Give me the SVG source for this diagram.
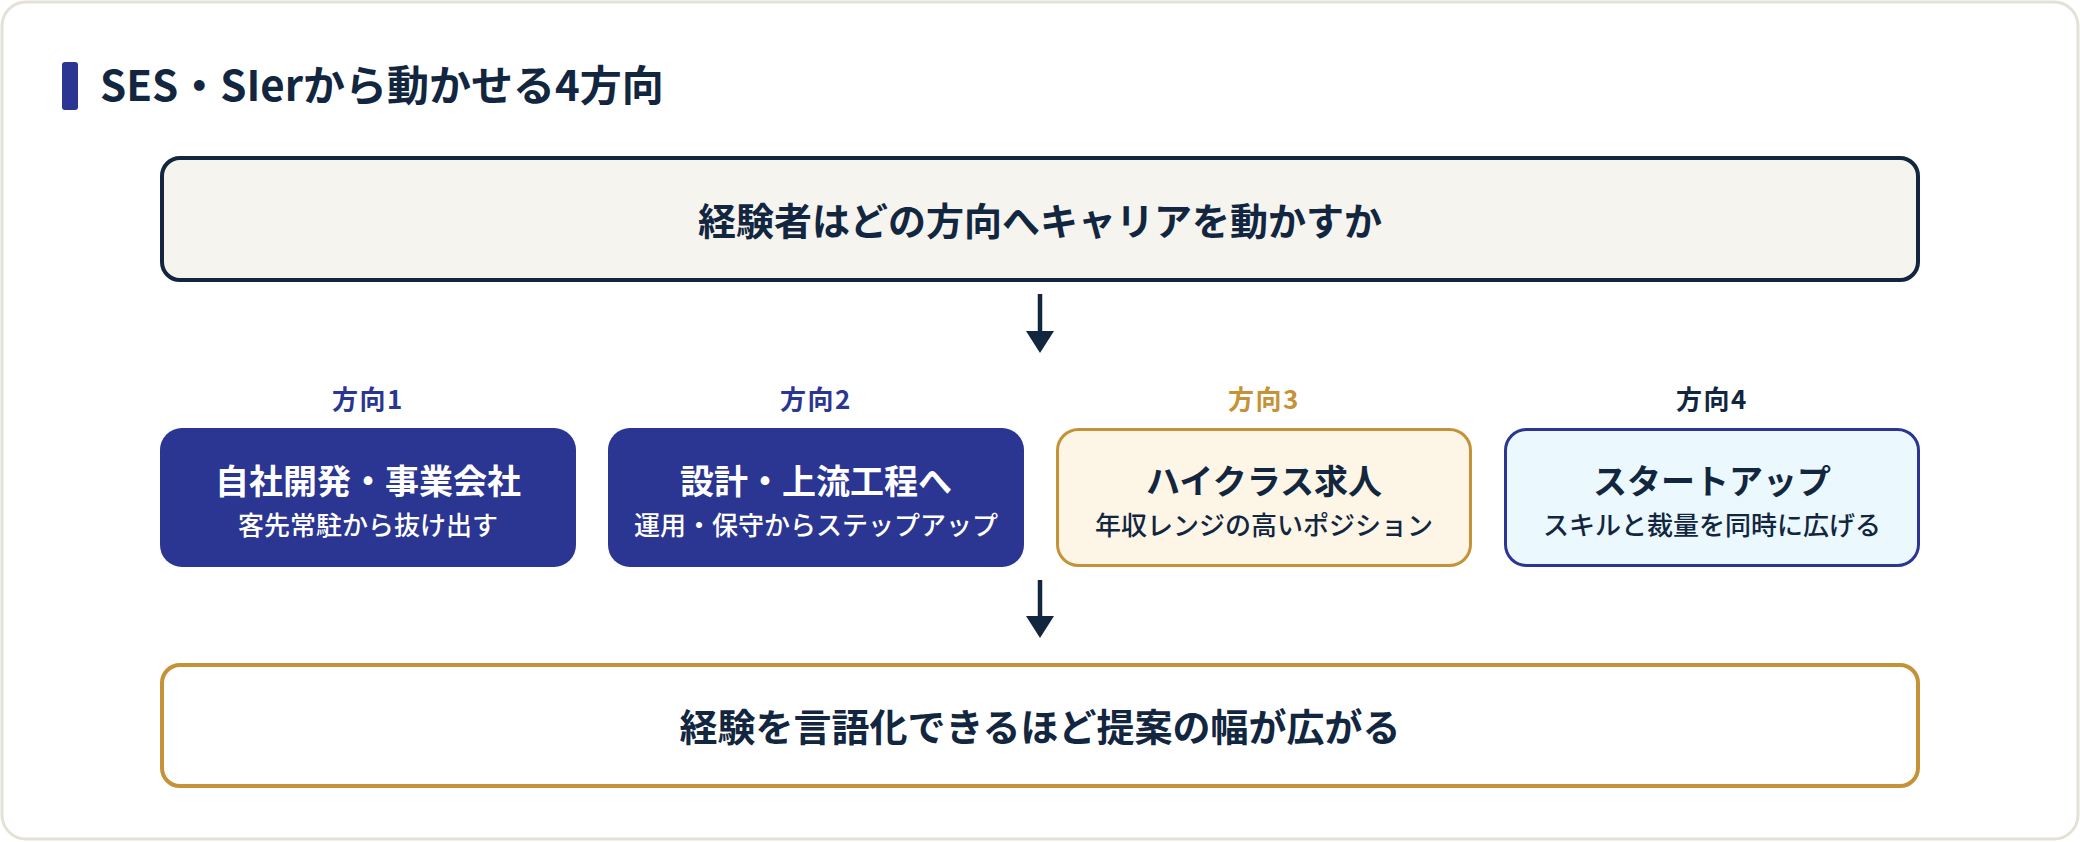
<svg xmlns="http://www.w3.org/2000/svg" width="2080" height="842" viewBox="0 0 2080 842">
<style>
text{font-family:"Noto Sans CJK JP","Noto Sans",sans-serif;text-anchor:middle}
.h{font-weight:700;fill:#12263f}
.lab{font-size:26px;font-weight:700;letter-spacing:1.5px}
.t{font-size:34px;font-weight:700}
.s{font-size:26px;font-weight:500}
.w{fill:#ffffff}
.d{fill:#12263f}
</style>
<defs>
<marker id="ah" viewBox="0 0 22 28" refX="0" refY="14" markerWidth="22" markerHeight="28" markerUnits="userSpaceOnUse" orient="auto"><path d="M0,0 L22,14 L0,28 Z" fill="#12263f"/></marker>
</defs>
<rect x="2" y="2" width="2076" height="837" rx="24" fill="#ffffff" stroke="#e4e1d6" stroke-width="3"/>
<g id="title">
<rect x="62" y="62" width="16" height="48" rx="3" fill="#2b3592"/>
<text x="100" y="101" class="h" style="font-size:42px;text-anchor:start">SES・SIerから動かせる4方向</text>
</g>
<g id="question">
<rect x="162" y="158" width="1756" height="122" rx="18" fill="#f5f4ef" stroke="#12263f" stroke-width="4"/>
<text x="1040" y="235" class="h" style="font-size:38px">経験者はどの方向へキャリアを動かすか</text>
</g>
<g id="connectors" stroke="#12263f" stroke-width="4.5" fill="none">
<path d="M1040,294 V331" marker-end="url(#ah)"/>
<path d="M1040,580 V616" marker-end="url(#ah)"/>
</g>
<g id="dir1">
<text x="368" y="409" class="lab" fill="#2b3592">方向1</text>
<rect x="160" y="428" width="416" height="139" rx="22" fill="#2b3592"/>
<text x="368" y="494" class="t w">自社開発・事業会社</text>
<text x="368" y="535" class="s w">客先常駐から抜け出す</text>
</g>
<g id="dir2">
<text x="816" y="409" class="lab" fill="#2b3592">方向2</text>
<rect x="608" y="428" width="416" height="139" rx="22" fill="#2b3592"/>
<text x="816" y="494" class="t w">設計・上流工程へ</text>
<text x="816" y="535" class="s w">運用・保守からステップアップ</text>
</g>
<g id="dir3">
<text x="1264" y="409" class="lab" fill="#c69237">方向3</text>
<rect x="1057.5" y="429.5" width="413" height="136" rx="21" fill="#fdf5e6" stroke="#c69237" stroke-width="3"/>
<text x="1264" y="494" class="t d">ハイクラス求人</text>
<text x="1264" y="535" class="s d">年収レンジの高いポジション</text>
</g>
<g id="dir4">
<text x="1712" y="409" class="lab" fill="#12263f">方向4</text>
<rect x="1505.5" y="429.5" width="413" height="136" rx="21" fill="#ebf8fd" stroke="#2b3592" stroke-width="3"/>
<text x="1712" y="494" class="t d">スタートアップ</text>
<text x="1712" y="535" class="s d">スキルと裁量を同時に広げる</text>
</g>
<g id="result">
<rect x="162" y="665" width="1756" height="121" rx="18" fill="#ffffff" stroke="#c69237" stroke-width="4"/>
<text x="1040" y="741" class="h" style="font-size:38px">経験を言語化できるほど提案の幅が広がる</text>
</g>
</svg>
